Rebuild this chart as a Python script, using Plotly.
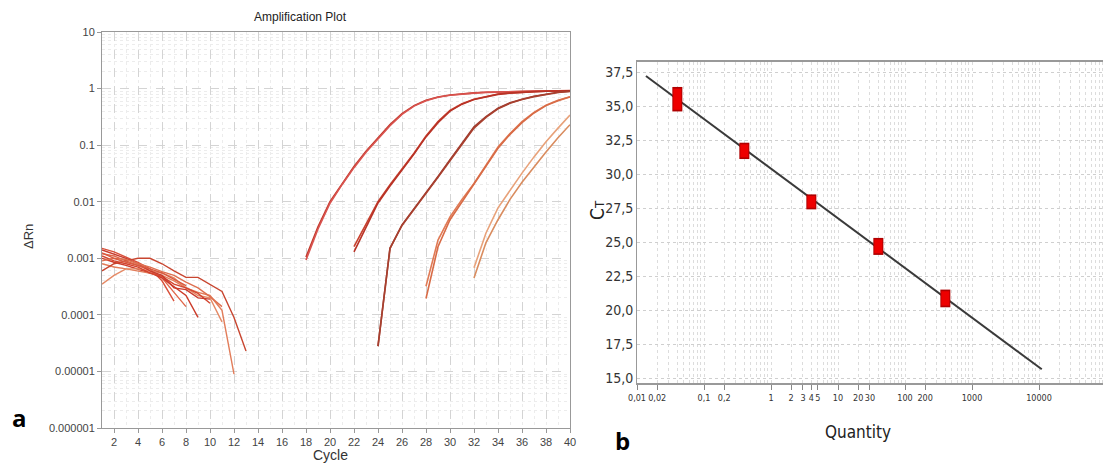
import numpy as np
import plotly.graph_objects as go

# ---------------- Panel a: amplification plot data ----------------
# Baseline (noise) curves, starting at cycle 1
baseline_curves = [
    [1.5e-3, 1.3e-3, 1.05e-3, 8.5e-4, 6.5e-4, 4.0e-4, 1.75e-4],
    [1.2e-3, 1.1e-3, 9.0e-4, 7.5e-4, 6.0e-4, 4.5e-4, 2.5e-4, 1.4e-4],
    [1.0e-3, 8.5e-4, 7.5e-4, 6.5e-4, 5.5e-4, 4.5e-4, 3.2e-4, 2.2e-4, 9.0e-5],
    [8.0e-4, 7.0e-4, 6.5e-4, 6.0e-4, 5.5e-4, 5.0e-4, 4.0e-4, 3.0e-4, 2.5e-4, 2.2e-4, 1.2e-4, 9.0e-6],
    [6.0e-4, 8.0e-4, 9.0e-4, 1.0e-3, 1.0e-3, 8.0e-4, 6.0e-4, 4.6e-4, 4.6e-4, 3.5e-4, 2.6e-4, 9.0e-5, 2.3e-5],
    [3.5e-4, 5.0e-4, 6.5e-4, 6.5e-4, 6.0e-4, 5.5e-4, 4.5e-4, 3.0e-4, 2.2e-4, 2.0e-4, 7.5e-5],
    [1.1e-3, 9.0e-4, 8.0e-4, 7.0e-4, 5.5e-4, 4.8e-4, 3.5e-4, 3.0e-4, 2.4e-4, 1.6e-4],
    [1.4e-3, 1.2e-3, 1.0e-3, 8.0e-4, 6.0e-4, 5.0e-4, 3.0e-4, 2.8e-4, 2.0e-4, 1.9e-4],
    [9.0e-4, 1.0e-3, 9.5e-4, 8.0e-4, 7.0e-4, 5.8e-4, 5.0e-4, 3.8e-4, 3.0e-4, 2.1e-4, 1.4e-4],
    [1.25e-3, 1.0e-3, 8.5e-4, 7.5e-4, 6.5e-4, 5.5e-4, 4.2e-4, 3.3e-4],
]
baseline_colors = ["#d9503a", "#e0674a", "#cc3b2a", "#e27d5a", "#c8452f",
                   "#e58a66", "#d4452f", "#c93a2c", "#de7050", "#d85a40"]

# Amplification curves: (start cycle, values per cycle)
amp_starts = [18, 18, 22, 22, 24, 24, 28, 28, 32, 32]
amp_values = [
    [0.00105, 0.0036, 0.0100, 0.021, 0.042, 0.078, 0.133, 0.23, 0.36, 0.50, 0.62, 0.71, 0.77,
     0.81, 0.84, 0.86, 0.875, 0.885, 0.895, 0.90, 0.905, 0.91, 0.915],
    [0.00093, 0.0033, 0.0094, 0.020, 0.040, 0.075, 0.128, 0.22, 0.35, 0.49, 0.61, 0.70, 0.76,
     0.80, 0.83, 0.855, 0.87, 0.88, 0.89, 0.895, 0.90, 0.905, 0.91],
    [0.0016, 0.0040, 0.0100, 0.020, 0.038, 0.072, 0.145, 0.26, 0.41, 0.54, 0.65, 0.73, 0.80,
     0.84, 0.865, 0.885, 0.90, 0.91, 0.92],
    [0.0013, 0.0036, 0.0095, 0.019, 0.036, 0.070, 0.140, 0.25, 0.40, 0.53, 0.64, 0.72, 0.79,
     0.83, 0.86, 0.88, 0.895, 0.905, 0.915],
    [2.8e-5, 0.0015, 0.0039, 0.0075, 0.014, 0.028, 0.055, 0.11, 0.21, 0.32, 0.45, 0.56, 0.65,
     0.73, 0.80, 0.86, 0.90],
    [2.8e-5, 0.0015, 0.0038, 0.0073, 0.0135, 0.027, 0.053, 0.105, 0.20, 0.31, 0.44, 0.55, 0.64,
     0.72, 0.79, 0.85, 0.89],
    [3.2e-4, 0.0021, 0.0054, 0.011, 0.021, 0.045, 0.093, 0.16, 0.26, 0.38, 0.51, 0.62, 0.72],
    [1.95e-4, 0.0016, 0.0048, 0.010, 0.020, 0.043, 0.088, 0.155, 0.25, 0.37, 0.50, 0.61, 0.71],
    [6.8e-4, 0.0028, 0.0078, 0.016, 0.032, 0.062, 0.115, 0.20, 0.34],
    [4.5e-4, 0.0019, 0.0048, 0.011, 0.022, 0.041, 0.076, 0.135, 0.23],
]
amp_colors = ["#c0392b", "#d9534f", "#c8412e", "#b83226", "#9e3a2e",
              "#a8402f", "#e07a55", "#d86b46", "#e8a27a", "#d98c5f"]

# ---------------- Panel b: standard curve data ----------------
std_quantity = [0.04, 0.4, 4, 40, 400]
std_ct_low = [34.6, 31.1, 27.4, 24.05, 20.2]
std_ct_high = [36.4, 32.3, 28.5, 25.3, 21.5]
std_slope = -3.65
std_intercept = 30.39
line_q_min = 0.0136
line_q_max = 11000

b_tickvals = [0.01, 0.02, 0.1, 0.2, 1, 2, 3, 4, 5, 10, 20, 30, 100, 200, 1000, 10000, 100000]
b_ticktext = ["0,01", "0,02", "0,1", "0,2", "1", "2", "3", "4", "5", "10", "20", "30",
              "100", "200", "1000", "10000", "100000"]
b_ytickvals = [15, 17.5, 20, 22.5, 25, 27.5, 30, 32.5, 35, 37.5]
b_yticktext = ["15,0", "17,5", "20,0", "22,5", "25,0", "27,5", "30,0", "32,5", "35,0", "37,5"]

a_ytickvals = [1e-6, 1e-5, 1e-4, 1e-3, 1e-2, 1e-1, 1, 10]
a_yticktext = ["0.000001", "0.00001", "0.0001", "0.001", "0.01", "0.1", "1", "10"]
a_xtickvals = list(range(2, 41, 2))

# The page body adds an 8px margin; positions below are given in window pixels.
OX, OY = 8, 8
W, H = 1111 - OX, 463 - OY


def px(v):
    return (v - OX) / W


def py(v):
    return 1 - (v - OY) / H


fig = go.Figure()

for vals, col in zip(baseline_curves, baseline_colors):
    fig.add_trace(go.Scatter(x=list(range(1, len(vals) + 1)), y=vals, mode="lines",
                             line=dict(color=col, width=1.4), xaxis="x", yaxis="y",
                             showlegend=False, hoverinfo="skip"))
for st, vals, col in zip(amp_starts, amp_values, amp_colors):
    fig.add_trace(go.Scatter(x=list(range(st, st + len(vals))), y=vals, mode="lines",
                             line=dict(color=col, width=1.6), xaxis="x", yaxis="y",
                             showlegend=False, hoverinfo="skip"))

# Panel b regression line
lq = np.array([line_q_min, line_q_max])
fig.add_trace(go.Scatter(x=lq, y=std_intercept + std_slope * np.log10(lq), mode="lines",
                         line=dict(color="#3a3a3a", width=2), xaxis="x2", yaxis="y2",
                         showlegend=False, hoverinfo="skip"))
# Replicate range boxes
for q, lo, hi in zip(std_quantity, std_ct_low, std_ct_high):
    fig.add_trace(go.Scatter(x=[q, q], y=[lo, hi], mode="lines",
                             line=dict(color="#b00000", width=10), xaxis="x2", yaxis="y2",
                             showlegend=False, hoverinfo="skip"))
    fig.add_trace(go.Scatter(x=[q, q], y=[lo + 0.12, hi - 0.12], mode="lines",
                             line=dict(color="#ee0000", width=8), xaxis="x2", yaxis="y2",
                             showlegend=False, hoverinfo="skip"))

grid_major = "#d4d4d4"
grid_minor = "#ececec"
narrow = "DejaVu Sans Condensed, Liberation Sans Narrow, Arial Narrow, sans-serif"
fa = dict(family="Arial, Liberation Sans, sans-serif", size=11, color="#444")
fb = dict(family=narrow, size=9, color="#333")

fig.update_layout(
    width=W, height=H, margin=dict(l=0, r=0, t=0, b=0, autoexpand=False),
    paper_bgcolor="white", plot_bgcolor="white",
    xaxis=dict(domain=[px(102), px(570)], range=[1, 40], tickvals=a_xtickvals, automargin=False,
               showgrid=True, gridcolor=grid_major, griddash="dash", gridwidth=1,
               minor=dict(dtick=1, showgrid=True, gridcolor=grid_minor, griddash="dot"),
               showline=True, linecolor="#999", linewidth=1, mirror=True,
               ticks="outside", ticklen=4, tickcolor="#999", tickfont=fa, zeroline=False),
    yaxis=dict(domain=[py(428), py(32)], type="log", range=[-6, 1], automargin=False,
               tickvals=a_ytickvals, ticktext=a_yticktext,
               showgrid=True, gridcolor=grid_major, griddash="dash", gridwidth=1,
               minor=dict(showgrid=True, gridcolor=grid_minor, griddash="dot",
                          tickvals=[m * 10.0 ** e for e in range(-6, 1) for m in range(2, 10)]),
               showline=True, linecolor="#999", linewidth=1, mirror=True,
               ticks="outside", ticklen=4, tickcolor="#999", tickfont=fa, zeroline=False),
    xaxis2=dict(domain=[px(637), px(1106)], type="log", range=[-2, 5], automargin=False,
                tickvals=b_tickvals, ticktext=b_ticktext, tickangle=0,
                showgrid=False,
                minor=dict(showgrid=True, gridcolor="#dcdcdc", griddash="dot",
                           tickvals=[m * 10.0 ** e for e in range(-2, 5) for m in range(1, 10)]),
                showline=True, linecolor="#999", linewidth=2, mirror=True,
                ticks="outside", ticklen=5, tickcolor="#888", tickfont=fb, zeroline=False,
                anchor="y2"),
    yaxis2=dict(domain=[py(383), py(62)], range=[14.632, 38.235], automargin=False,
                tickvals=b_ytickvals, ticktext=b_yticktext,
                showgrid=True, gridcolor="#cfcfcf", griddash="dot", gridwidth=1,
                showline=True, linecolor="#999", linewidth=1, mirror=True,
                ticks="", tickfont=dict(family=narrow, size=14, color="#333"),
                zeroline=False, anchor="x2"),
)

labels = [
    ("Amplification Plot", 300, 17, 0, dict(family="Arial, Liberation Sans, sans-serif", size=12, color="#222")),
    ("ΔRn", 28, 237, -90, dict(family="Arial, Liberation Sans, sans-serif", size=13, color="#333")),
    ("Cycle", 330, 455, 0, dict(family="Arial, Liberation Sans, sans-serif", size=14, color="#333")),
    ("C<span style='font-size:13px'>T</span>", 597, 210, -90, dict(family=narrow, size=19, color="#222")),
    ("Quantity", 858, 432, 0, dict(family=narrow, size=17, color="#222")),
    ("<b>a</b>", 19, 417, 0, dict(family="Open Sans, Liberation Sans, sans-serif", size=24, color="#000")),
    ("<b>b</b>", 622, 440, 0, dict(family="Open Sans, Liberation Sans, sans-serif", size=24, color="#000")),
]
for text, lx, ly, ang, font in labels:
    fig.add_annotation(text=text, x=px(lx), y=py(ly), xref="paper", yref="paper",
                       xanchor="center", yanchor="middle", textangle=ang,
                       showarrow=False, font=font)

fig.write_html("out.html")
